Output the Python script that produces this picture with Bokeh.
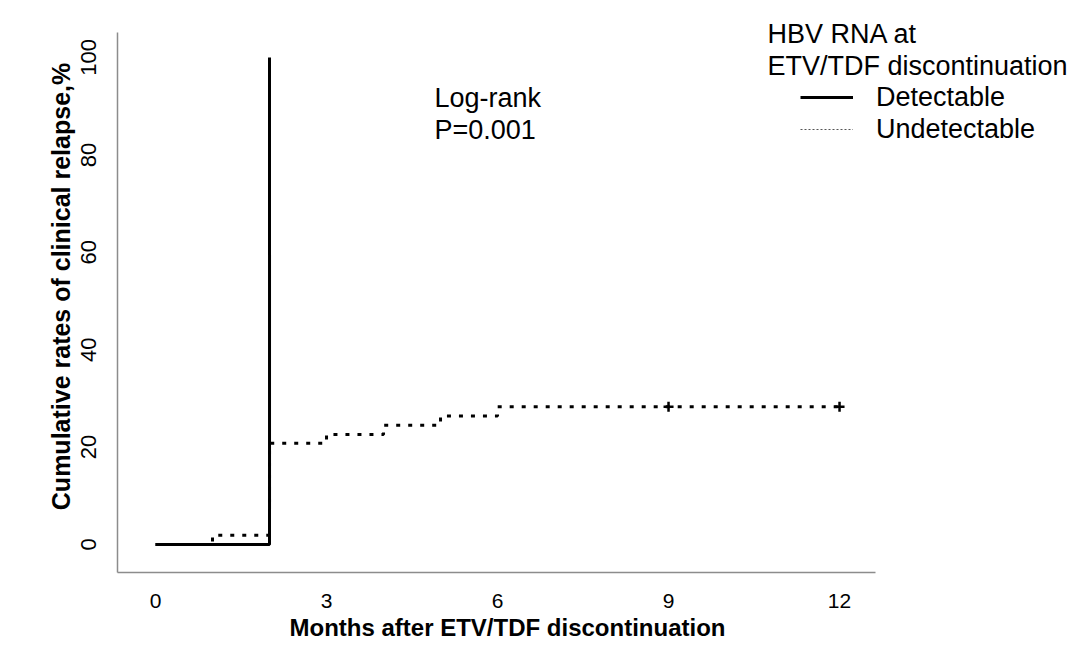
from bokeh.plotting import figure
from bokeh.models import Range1d, FixedTicker, Label, Legend, LegendItem, Title
from bokeh.embed import file_html
from bokeh.resources import INLINE

# Data
months_det = [0, 2]
relapse_det = [0, 100]
months_und = [0, 1, 2, 3, 4, 5, 6, 12]
relapse_und = [0, 1.9, 20.8, 22.6, 24.5, 26.4, 28.3, 28.3]
censor_months = [9, 12]
censor_relapse = [28.3, 28.3]
x_ticks = [0, 3, 6, 9, 12]
y_ticks = [0, 20, 40, 60, 80, 100]

FONT = "Liberation Sans"

# visible axis extent (axis lines stop here, frame extends further for the legend)
X_LO, X_HI = -0.667, 12.63
Y_LO, Y_HI = -5.75, 105.1

p = figure(frame_width=955, frame_height=572,
           min_border_left=117, min_border_top=0, min_border_right=0, min_border_bottom=40,
           x_range=Range1d(X_LO, 16.087), y_range=Range1d(Y_LO, 111.7),
           output_backend="svg", toolbar_location=None)

p.step(months_det, relapse_det, mode="after", line_width=3, line_color="black")
p.step(months_und, relapse_und, mode="after", line_width=3, line_dash="4 8",
       line_color="black")
p.scatter(censor_months, censor_relapse, marker="cross", size=10, line_width=2.5,
          line_color="black")

# legend-only renderers (hidden, same data, thinner style for the samples)
r1 = p.step(months_det, relapse_det, mode="after", line_width=3, line_color="black",
            visible=False)
r2 = p.step(months_und, relapse_und, mode="after", line_width=1, line_dash="2 2",
            line_color="#555555", visible=False)

legend = Legend(items=[LegendItem(label="Detectable", renderers=[r1]),
                       LegendItem(label="Undetectable", renderers=[r2])],
                location=(683, 427))
legend.label_text_font = FONT
legend.label_text_font_size = "27px"
legend.label_text_color = "black"
legend.glyph_width = 53
legend.glyph_height = 32
legend.label_height = 32
legend.label_standoff = 23
legend.spacing = 0
legend.padding = 0
legend.margin = 0
legend.border_line_color = None
legend.background_fill_alpha = 0
p.add_layout(legend)

for txt, x, y in [("HBV RNA at", 650, 539), ("ETV/TDF discontinuation", 650, 507),
                  ("Log-rank", 317, 475), ("P=0.001", 317, 443)]:
    p.add_layout(Label(x=x, y=y, x_units="screen", y_units="screen", text=txt,
                       text_baseline="middle", text_align="left",
                       text_font=FONT, text_font_size="27px", text_color="black"))

p.xaxis.ticker = FixedTicker(ticks=x_ticks)
p.yaxis.ticker = FixedTicker(ticks=y_ticks)
p.xaxis.bounds = (X_LO, X_HI)
p.yaxis.bounds = (Y_LO, Y_HI)
p.yaxis.axis_label = "Cumulative rates of clinical relapse,%"
p.yaxis.major_label_orientation = "vertical"

# x-axis title as a left-aligned Title below the axis (centred under the visible axis)
p.add_layout(Title(text="Months after ETV/TDF discontinuation", align="left", offset=172,
                   text_font=FONT, text_font_size="24px", text_font_style="bold",
                   text_color="black", standoff=2), "below")

p.axis.major_tick_line_color = None
p.axis.minor_tick_line_color = None
p.axis.axis_line_color = "#8c8c8c"
p.axis.axis_line_width = 1.5
p.axis.major_label_text_font = FONT
p.xaxis.major_label_text_font_size = "21px"
p.yaxis.major_label_text_font_size = "22px"
p.axis.major_label_text_color = "black"
p.axis.axis_label_text_font = FONT
p.yaxis.axis_label_text_font_size = "25px"
p.axis.axis_label_text_font_style = "bold"
p.axis.axis_label_text_color = "black"
p.xaxis.major_label_standoff = 15
p.yaxis.major_label_standoff = 15
p.yaxis.axis_label_standoff = 4

p.xgrid.visible = False
p.ygrid.visible = False
p.outline_line_color = None
p.background_fill_color = "white"
p.border_fill_color = "white"

open("out.html", "w").write(file_html(p, INLINE))
